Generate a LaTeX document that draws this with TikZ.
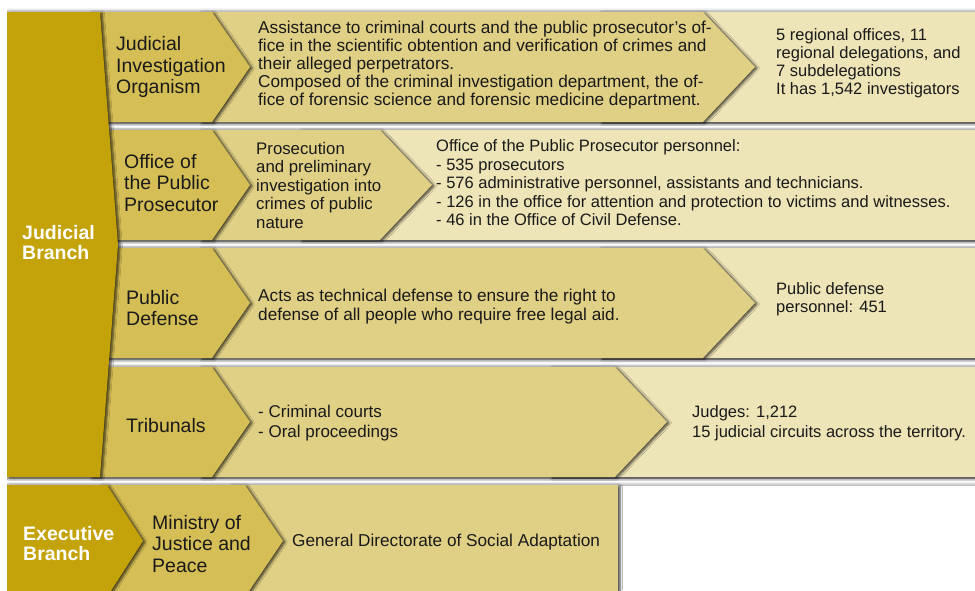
\documentclass[tikz,border=0pt]{standalone}
\usepackage{fontspec}
\setmainfont{Liberation Sans}
\usetikzlibrary{shadows,shadows.blur}
\definecolor{brcol}{HTML}{C4A20A}
\definecolor{ttlcol}{HTML}{D5BE55}
\definecolor{desccol}{HTML}{E0D085}
\definecolor{infocol}{HTML}{EDE4B7}
\definecolor{txtcol}{HTML}{1A1A1A}
\tikzset{
  shd/.style={blur shadow={shadow xshift=2.2pt,shadow yshift=-1pt,shadow blur steps=6,shadow blur radius=2.2pt,shadow opacity=70}},
  stripe/.style={top color=black!30,bottom color=black!25,middle color=white},
  titletext/.style={anchor=west,align=left,inner sep=0pt,text=txtcol,font=\fontsize{19.5}{21.5}\selectfont},
  bodytext/.style={anchor=west,align=left,inner sep=0pt,text=txtcol,font=\fontsize{16.5}{18}\selectfont},
  desctext/.style={anchor=west,align=left,inner sep=0pt,text=txtcol,font=\fontsize{17.2}{18}\selectfont},
  branchtext/.style={anchor=west,align=left,inner sep=0pt,text=white,font=\bfseries\fontsize{19.5}{20}\selectfont},
}
\begin{document}
\begin{tikzpicture}[x=1pt,y=-1pt]
\useasboundingbox (0,0) rectangle (975,590);
\clip (0,0) rectangle (975,590);
\fill[white] (0,0) rectangle (975,590);
% separating stripes
\shade[top color=white,bottom color=black!20] (7,7) rectangle (975,12);
\shade[stripe] (7,122) rectangle (975,130);
\shade[stripe] (7,240) rectangle (975,248);
\shade[stripe] (7,358) rectangle (975,367);
\shade[stripe] (7,477) rectangle (975,485);
% row 1
\fill[infocol,shd] (600,12) rectangle (990,122);
\fill[desccol,shd] (200,12) -- (703,12) -- (755,67) -- (703,122) -- (200,122) -- cycle;
\fill[ttlcol,shd] (90,12) -- (212,12) -- (250,67) -- (212,122) -- (90,122) -- cycle;
% row 2
\fill[infocol,shd] (300,130) rectangle (990,240);
\fill[desccol,shd] (200,130) -- (380,130) -- (432,185) -- (380,240) -- (200,240) -- cycle;
\fill[ttlcol,shd] (90,130) -- (212,130) -- (250,185) -- (212,240) -- (90,240) -- cycle;
% row 3
\fill[infocol,shd] (600,248) rectangle (990,358);
\fill[desccol,shd] (200,248) -- (703,248) -- (755,303) -- (703,358) -- (200,358) -- cycle;
\fill[ttlcol,shd] (90,248) -- (212,248) -- (250,303) -- (212,358) -- (90,358) -- cycle;
% row 4
\fill[infocol,shd] (550,367) rectangle (990,477);
\fill[desccol,shd] (200,367) -- (615,367) -- (667,422) -- (615,477) -- (200,477) -- cycle;
\fill[ttlcol,shd] (90,367) -- (212,367) -- (250,422) -- (212,477) -- (90,477) -- cycle;
% judicial branch column
\fill[brcol,shd] (7,12) -- (100,12) -- (118,245) -- (100,477) -- (7,477) -- cycle;
% executive row
\fill[desccol,shd] (230,485) rectangle (618,600);
\fill[ttlcol,shd] (100,485) -- (245,485) -- (283,541) -- (245,597) -- (100,597) -- cycle;
\fill[brcol,shd] (7,485) -- (107,485) -- (143,541) -- (107,597) -- (7,597) -- cycle;
% texts
\node[branchtext] (jb) at (22,243) {Judicial\\Branch};
\node[titletext] (jio) at (116,67) {Judicial\\Investigation\\Organism};
\node[desctext] (jiod) at (258,65) {Assistance to criminal courts and the public prosecutor's of-\\fice in the scientific obtention and verification of crimes and\\their alleged perpetrators.\\Composed of the criminal investigation department, the of-\\fice of forensic science and forensic medicine department.};
\node[bodytext] (jioi) at (776,63) {5 regional offices, 11\\regional delegations, and\\7 subdelegations\\It has 1,542 investigators};
\node[titletext] (opp) at (124,183) {Office of\\the Public\\Prosecutor};
\node[desctext,font=\fontsize{16.8}{18.5}\selectfont] (oppd) at (256,185) {Prosecution\\and preliminary\\investigation into\\crimes of public\\nature};
\node[bodytext,font=\fontsize{16.5}{18.5}\selectfont] (oppi) at (436,183) {Office of the Public Prosecutor personnel:\\- 535 prosecutors\\- 576 administrative personnel, assistants and technicians.\\- 126 in the office for attention and protection to victims and witnesses.\\- 46 in the Office of Civil Defense.};
\node[titletext] (pd) at (126,308) {Public\\Defense};
\node[desctext,font=\fontsize{17.2}{19}\selectfont] (pdd) at (258,307) {Acts as technical defense to ensure the right to\\defense of all people who require free legal aid.};
\node[bodytext] (pdi) at (776,299) {Public defense\\personnel: 451};
\node[titletext] (tri) at (126,426) {Tribunals};
\node[desctext,font=\fontsize{17}{20}\selectfont] (trid) at (258,423) {- Criminal courts\\- Oral proceedings};
\node[bodytext,font=\fontsize{16.5}{20}\selectfont] (trii) at (692,423) {Judges: 1,212\\15 judicial circuits across the territory.};
\node[branchtext] (eb) at (23,544) {Executive\\Branch};
\node[titletext] (mjp) at (152,544) {Ministry of\\Justice and\\Peace};
\node[desctext] (gdsa) at (292,542) {General Directorate of Social Adaptation};
\end{tikzpicture}
\end{document}
